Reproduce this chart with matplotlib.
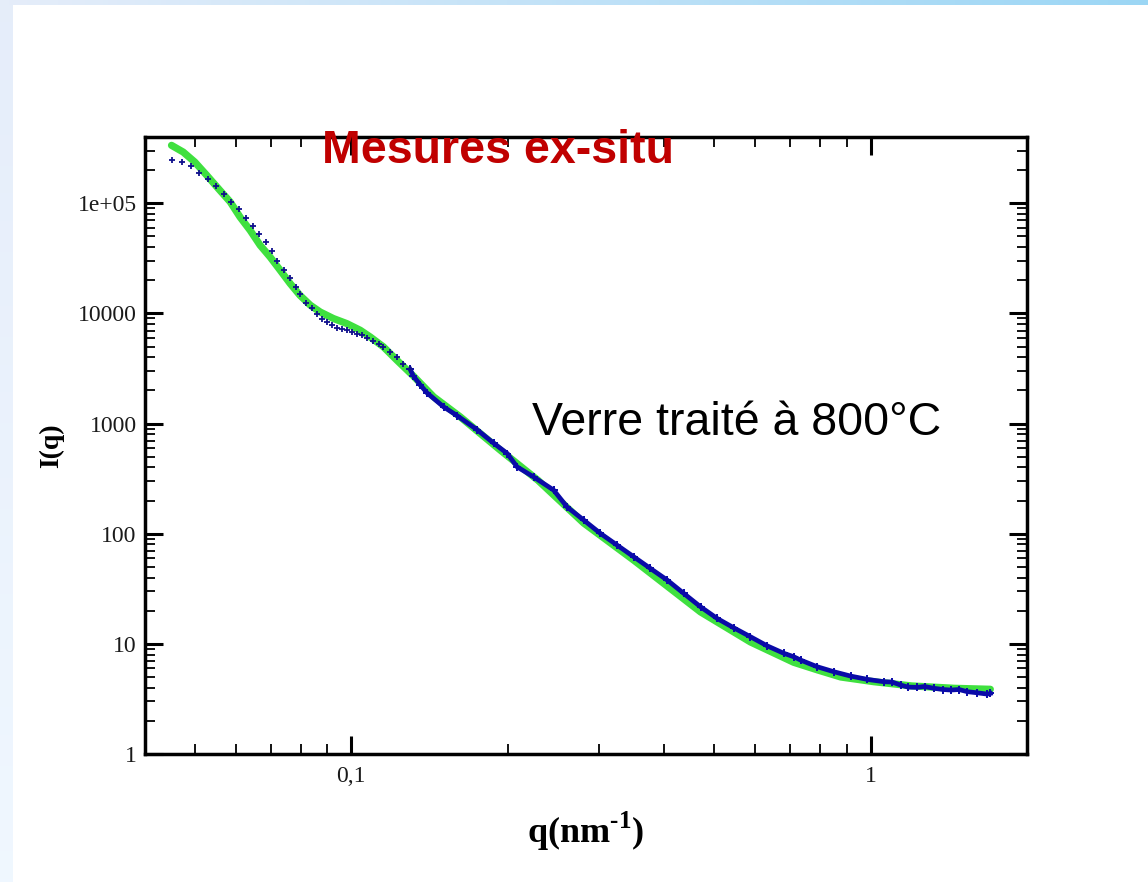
import numpy as np
import matplotlib
matplotlib.use("Agg")
import matplotlib.pyplot as plt
from matplotlib.ticker import LogLocator, NullFormatter

# fit (green line)
fit_q = [0.0451, 0.0475, 0.0500, 0.0527, 0.0559, 0.0585, 0.0611, 0.0639, 0.0668,
         0.0698, 0.0730, 0.0763, 0.0797, 0.0834, 0.0872, 0.0924, 0.0981, 0.1041,
         0.1088, 0.1154, 0.1225, 0.1318, 0.1441, 0.1622, 0.1937, 0.2290, 0.2803,
         0.35, 0.4705, 0.587, 0.711, 0.79, 0.876, 1.015, 1.2, 1.45, 1.70]
fit_i = [3.36e5, 2.92e5, 2.37e5, 1.80e5, 1.31e5, 1.03e5, 7.51e4, 5.69e4, 4.16e4,
         3.26e4, 2.47e4, 1.87e4, 1.46e4, 1.19e4, 1.03e4, 9.0e3, 8.09e3, 7.04e3,
         6.12e3, 4.97e3, 3.76e3, 2.7e3, 1.75e3, 1.15e3, 574, 305, 125,
         57.5, 19.5, 10.4, 6.8, 5.8, 5.0, 4.53, 4.15, 3.95, 3.87]

# measured points, sparse part (low q)
meas_q_low = [0.0451, 0.0472, 0.0491, 0.0510, 0.0530, 0.0549, 0.0569, 0.0587, 0.0607,
              0.0627, 0.0648, 0.0665, 0.0685, 0.0704, 0.0721, 0.0743, 0.0764, 0.0782,
              0.0797, 0.0818, 0.0840, 0.0859, 0.0878, 0.0898, 0.0918, 0.0939, 0.0960,
              0.0981, 0.1003, 0.1026, 0.1049, 0.1075, 0.1104, 0.1129, 0.1154, 0.1189,
              0.1225, 0.1261, 0.1299]
meas_i_low = [2.49e5, 2.37e5, 2.20e5, 1.88e5, 1.66e5, 1.44e5, 1.21e5, 1.03e5, 8.83e4,
              7.41e4, 6.18e4, 5.31e4, 4.46e4, 3.69e4, 2.99e4, 2.50e4, 2.10e4, 1.74e4,
              1.49e4, 1.25e4, 1.11e4, 9.84e3, 8.99e3, 8.38e3, 7.93e3, 7.45e3, 7.19e3,
              7.04e3, 6.80e3, 6.57e3, 6.34e3, 6.04e3, 5.63e3, 5.33e3, 4.97e3, 4.48e3,
              4.03e3, 3.51e3, 3.10e3]

# measured points, dense part (high q)
meas_q_high = [0.1299, 0.1318, 0.1358, 0.140, 0.1506, 0.160, 0.1747, 0.188, 0.1998,
               0.2086, 0.2245, 0.2453, 0.2604, 0.2803, 0.3019, 0.325, 0.35, 0.3767,
               0.406, 0.4368, 0.4705, 0.5066, 0.545, 0.587, 0.632, 0.681, 0.711,
               0.733, 0.789, 0.850, 0.915, 0.985, 1.061, 1.10, 1.142, 1.18, 1.23,
               1.27, 1.324, 1.38, 1.426, 1.48, 1.535, 1.60, 1.678, 1.70]
meas_i_high = [3.10e3, 2.7e3, 2.25e3, 1.9e3, 1.42e3, 1.18e3, 880, 665, 535,
               405, 328, 249, 175, 133, 100.6, 78.8, 61.7, 48.4,
               37.9, 28.7, 21.7, 17.0, 14.0, 11.6, 9.6, 8.2, 7.64,
               7.13, 6.2, 5.58, 5.1, 4.76, 4.53, 4.5, 4.23, 4.05, 4.03,
               4.1, 3.95, 3.85, 3.81, 3.85, 3.68, 3.6, 3.5, 3.55]

y_ticks = [1, 10, 100, 1000, 10000, 1e5]
y_labels = ["1", "10", "100", "1000", "10000", "1e+05"]
x_ticks = [0.1, 1]
x_labels = ["0,1", "1"]

plt.rcParams["mathtext.fontset"] = "custom"
plt.rcParams["mathtext.rm"] = "Liberation Serif:bold"
plt.rcParams["mathtext.bf"] = "Liberation Serif:bold"

fig = plt.figure(figsize=(11.48, 8.82), dpi=100)
fig.patch.set_facecolor("white")

# slide border gradients
top = fig.add_axes([0, 1 - 5 / 882, 1, 5 / 882])
grad = np.linspace(0, 1, 256)
c0 = np.array([0.90, 0.93, 0.98])
c1 = np.array([0.61, 0.84, 0.96])
top.imshow((c0 + (c1 - c0) * grad[:, None])[None, :, :], aspect="auto")
top.axis("off")
left = fig.add_axes([0, 0, 13 / 1148, 1 - 5 / 882])
c2 = np.array([0.94, 0.97, 1.0])
left.imshow((c2 + (c0 - c2) * grad[:, None])[::-1, None, :], aspect="auto")
left.axis("off")

ax = fig.add_axes([145 / 1148, 128 / 882, 882 / 1148, 617 / 882])
ax.plot(fit_q, fit_i, color="#3fe03f", lw=5.2, solid_capstyle="round",
        solid_joinstyle="round", zorder=2)
ax.plot(meas_q_high, meas_i_high, color="#0a0aa8", lw=3.4, solid_joinstyle="round", zorder=3)
ax.plot(meas_q_high, meas_i_high, "+", color="#0a0aa8", ms=6, mew=1.4, zorder=3)
ax.plot(meas_q_low, meas_i_low, "+", color="#10108c", ms=4.5, mew=1.3, zorder=3)

ax.set_xscale("log")
ax.set_yscale("log")
ax.set_xlim(0.0401, 2.0)
ax.set_ylim(1, 4.0e5)

ax.set_yticks(y_ticks)
ax.set_yticklabels(y_labels)
ax.set_xticks(x_ticks)
ax.set_xticklabels(x_labels)
ax.yaxis.set_minor_locator(LogLocator(base=10, subs=np.arange(2, 10)))
ax.xaxis.set_minor_locator(LogLocator(base=10, subs=np.arange(2, 10)))
ax.xaxis.set_minor_formatter(NullFormatter())
ax.yaxis.set_minor_formatter(NullFormatter())

ax.tick_params(which="both", direction="in", top=True, right=True)
ax.tick_params(which="major", length=13, width=2.2)
ax.tick_params(which="minor", length=7, width=1.3)
ax.tick_params(axis="y", which="major", pad=6)
ax.tick_params(axis="x", which="major", pad=9)
for lab in ax.get_xticklabels() + ax.get_yticklabels():
    lab.set_family("Liberation Serif")
    lab.set_fontsize(17)
    lab.set_color("#1a1a1a")
for sp in ax.spines.values():
    sp.set_linewidth(2.5)

ax.set_ylabel("I(q)", family="Liberation Serif", fontweight="bold", fontsize=20, labelpad=10)
ax.set_xlabel(r"q(nm$^{\mathrm{\text{-}1}}$)", family="Liberation Serif", fontweight="bold",
              fontsize=26, labelpad=16)

fig.text(322 / 1148, (882 - 163) / 882, "Mesures ex-situ", family="Liberation Sans",
         fontweight="bold", fontsize=33.5, color="#c00000", va="baseline", ha="left")
fig.text(532 / 1148, (882 - 435) / 882, "Verre traité à 800°C", family="Liberation Sans",
         fontsize=33.5, color="black", va="baseline", ha="left")

fig.savefig("out.png", dpi=100)
